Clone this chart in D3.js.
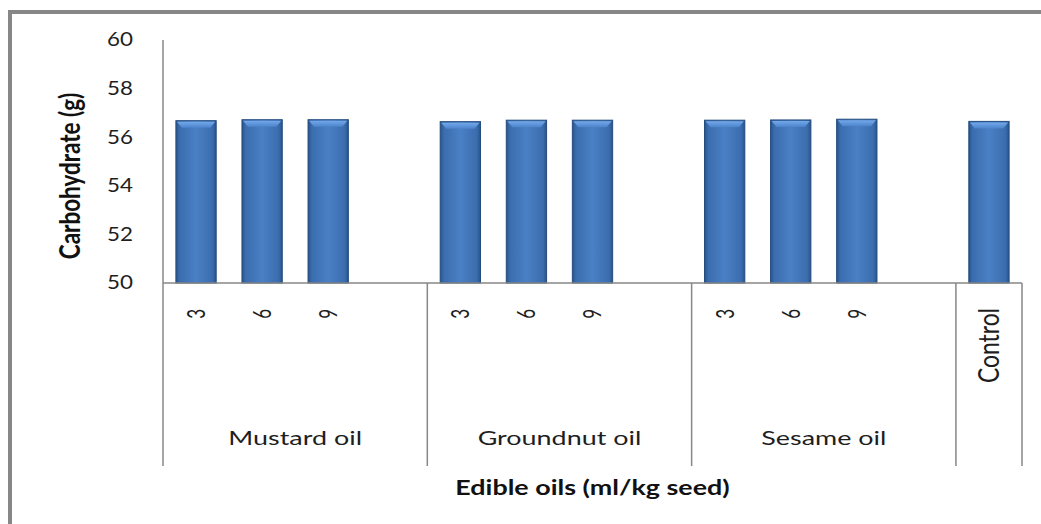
<!DOCTYPE html>
<html>
<head>
<meta charset="utf-8">
<script src="https://cdn.jsdelivr.net/npm/d3@7"></script>
<style>
  html, body { margin: 0; padding: 0; background: #fff; }
  svg { display: block; }
</style>
</head>
<body>
<svg id="chart" width="1041" height="524"></svg>
<script>
// Carbohydrate content of seed treated with edible oils
const groups = ["Mustard oil", "Groundnut oil", "Sesame oil", "Control"];
const doses = ["3", "6", "9"];
const mustardValues = [56.68, 56.72, 56.72];
const groundnutValues = [56.64, 56.70, 56.70];
const sesameValues = [56.70, 56.71, 56.74];
const controlValue = [56.65];
const yTicks = [50, 52, 54, 56, 58, 60];
const yTitle = "Carbohydrate (g)";
const xTitle = "Edible oils (ml/kg seed)";

// Flat list of category slots: each oil group has three doses and one empty slot
const seriesByGroup = [mustardValues, groundnutValues, sesameValues];
const slots = [];
seriesByGroup.forEach((vals, gi) => {
  vals.forEach((v, i) => slots.push({ key: gi + "-" + i, group: groups[gi], label: doses[i], value: v }));
  slots.push({ key: gi + "-gap", group: groups[gi], label: "", value: null });
});
slots.push({ key: "ctrl", group: "Control", label: "Control", value: controlValue[0] });

const svg = d3.select("#chart");
const font = "Lato, 'Open Sans', sans-serif";
const axisColor = "#878787";
const textColor = "#1e1e1e";

const plot = { left: 163, right: 1022, top: 40, bottom: 283 };
const dividerBottom = 466;

const x = d3.scaleBand()
  .domain(slots.map(d => d.key))
  .range([plot.left, plot.right])
  .paddingInner(0.39)
  .paddingOuter(0.195);

const y = d3.scaleLinear().domain([50, 60]).range([plot.bottom, plot.top]);

// Bar gradients
const defs = svg.append("defs");
const bodyGrad = defs.append("linearGradient").attr("id", "barBody")
  .attr("x1", "0%").attr("x2", "100%").attr("y1", "0%").attr("y2", "0%");
[["0%", "#28548a"], ["9%", "#3a6dae"], ["50%", "#4a80c5"], ["91%", "#3b6dae"], ["100%", "#27538a"]]
  .forEach(([o, c]) => bodyGrad.append("stop").attr("offset", o).attr("stop-color", c));
const topGrad = defs.append("linearGradient").attr("id", "barTop")
  .attr("x1", "0%").attr("x2", "0%").attr("y1", "0%").attr("y2", "100%");
[["0%", "#74a8ea"], ["100%", "#4c84cc"]]
  .forEach(([o, c]) => topGrad.append("stop").attr("offset", o).attr("stop-color", c));

// Outer frame (top and left edges)
svg.append("line").attr("x1", 8).attr("x2", 1041).attr("y1", 12).attr("y2", 12)
  .attr("stroke", axisColor).attr("stroke-width", 4);
svg.append("line").attr("x1", 10).attr("x2", 10).attr("y1", 10).attr("y2", 524)
  .attr("stroke", axisColor).attr("stroke-width", 4);

// Bars
const bars = svg.append("g").selectAll("g.bar")
  .data(slots.filter(d => d.value !== null))
  .join("g").attr("class", "bar");

bars.append("rect")
  .attr("x", d => x(d.key))
  .attr("y", d => y(d.value))
  .attr("width", x.bandwidth())
  .attr("height", d => y(50) - y(d.value))
  .attr("fill", "url(#barBody)")
  .attr("stroke", "#244c7e")
  .attr("stroke-width", 1);

// Bevelled top face of each bar
bars.append("path")
  .attr("d", d => {
    const x0 = x(d.key) + 1, x1 = x(d.key) + x.bandwidth() - 1;
    const t = y(d.value) + 1, b = t + 6;
    return `M${x0},${t}L${x1},${t}L${x1 - 5},${b}L${x0 + 5},${b}Z`;
  })
  .attr("fill", "url(#barTop)");

// Y axis
const yAxis = svg.append("g")
  .attr("transform", `translate(${plot.left},0)`)
  .call(d3.axisLeft(y).tickValues(yTicks).tickSize(0).tickFormat(d3.format("d")));
yAxis.select(".domain").remove();
yAxis.selectAll("text")
  .attr("x", 0)
  .attr("transform", "translate(-30,0) scale(1.21,1)")
  .attr("font-family", font).attr("font-size", 18.5).attr("fill", textColor);
svg.append("line").attr("x1", plot.left).attr("x2", plot.left)
  .attr("y1", plot.top).attr("y2", dividerBottom)
  .attr("stroke", axisColor).attr("stroke-width", 1.5);

// X baseline
svg.append("line").attr("x1", plot.left).attr("x2", plot.right)
  .attr("y1", plot.bottom).attr("y2", plot.bottom)
  .attr("stroke", axisColor).attr("stroke-width", 1.5);

// Dose labels (rotated, reading upward)
const xAxis = svg.append("g")
  .attr("transform", `translate(0,${plot.bottom})`)
  .call(d3.axisBottom(x).tickSize(0).tickFormat(k => slots.find(s => s.key === k).label));
xAxis.select(".domain").remove();
xAxis.selectAll(".tick text")
  .attr("font-family", font).attr("fill", textColor)
  .attr("font-size", k => k === "ctrl" ? 22 : 17)
  .attr("text-anchor", "end")
  .attr("dy", "0.35em")
  .attr("y", 0).attr("x", 0)
  .attr("transform", k => k === "ctrl"
    ? "translate(0,25) rotate(-90) scale(1.04,1.3)"
    : "translate(0,26) rotate(-90) scale(1,1.5)");

// Group separators and group labels
const groupInfo = groups.map(g => {
  const ks = slots.filter(s => s.group === g).map(s => s.key);
  const start = x(ks[0]) - x.step() * x.paddingInner() / 2;
  const end = x(ks[ks.length - 1]) + x.bandwidth() + x.step() * x.paddingInner() / 2;
  return { group: g, start, end };
});
groupInfo[0].start = plot.left;
groupInfo[groupInfo.length - 1].end = plot.right;

svg.append("g").selectAll("line")
  .data(groupInfo.map(d => d.end))
  .join("line")
  .attr("x1", d => d).attr("x2", d => d)
  .attr("y1", plot.bottom).attr("y2", dividerBottom)
  .attr("stroke", axisColor).attr("stroke-width", 1.5);

svg.append("g").selectAll("text")
  .data(groupInfo.filter(d => d.group !== "Control"))
  .join("text")
  .attr("transform", d => `translate(${(d.start + d.end) / 2},438) scale(1.38,1)`)
  .attr("dy", "0.35em")
  .attr("text-anchor", "middle")
  .attr("font-family", font).attr("font-size", 19.5).attr("fill", textColor)
  .text(d => d.group);

// Axis titles
svg.append("text")
  .attr("transform", `translate(${(plot.left + plot.right) / 2},488) scale(1.28,1)`)
  .attr("dy", "0.35em")
  .attr("text-anchor", "middle")
  .attr("font-family", font).attr("font-size", 21).attr("font-weight", "bold").attr("fill", "#111")
  .text(xTitle);

svg.append("text")
  .attr("transform", `translate(70,176) rotate(-90) scale(1,1.24)`)
  .attr("dy", "0.35em")
  .attr("text-anchor", "middle")
  .attr("font-family", font).attr("font-size", 22.5).attr("font-weight", "bold").attr("fill", "#111")
  .text(yTitle);
</script>
</body>
</html>
